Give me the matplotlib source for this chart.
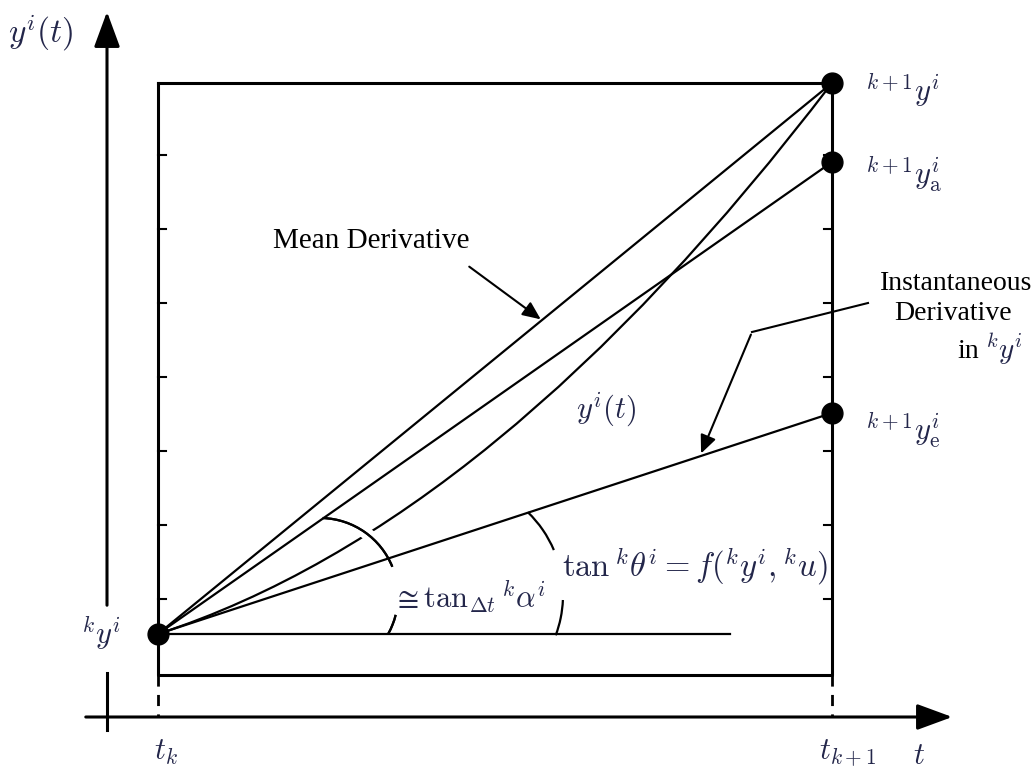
import matplotlib.pyplot as plt
import matplotlib.patheffects as pe
from matplotlib.path import Path
from matplotlib.patches import PathPatch, Arc

plt.rcParams['mathtext.fontset'] = 'cm'

# diagram geometry (pixel units, y down)
t_k = 158
t_k1 = 832
y_k = 634          # k y^i
y_next = 83        # k+1 y^i
y_a = 162          # k+1 y^i_a
y_e = 413          # k+1 y^i_e
box_bottom = 675
x_axis_y = 717
y_axis_x = 107
box_ticks = [155, 229, 303, 377, 451, 525, 599]
curve_ctrl = (496, 524)   # control point of the y^i(t) curve
horiz_end = 730

# angle marks: centre, radius, visible pieces (degrees, y down)
alpha_arc = ((320, 596), 78, [(-88, -22), (14, 29)])
theta_arc = ((448, 595), 115, [(-46, -23), (2.5, 20.5)])

math_color = '#23264a'
serif = 'Liberation Serif'

fig = plt.figure(figsize=(10.34, 7.71), dpi=100)
ax = fig.add_axes([0, 0, 1, 1])
ax.set_xlim(0, 1034)
ax.set_ylim(771, 0)
ax.axis('off')

lw = 1.6
head = '-|>,head_length=0.68,head_width=0.25'
# axes with arrows
ax.annotate('', xy=(y_axis_x, 9), xytext=(y_axis_x, 608),
            arrowprops=dict(arrowstyle=head, lw=2.2, color='k', mutation_scale=32))
ax.plot([y_axis_x, y_axis_x], [673, 730], color='k', lw=2.2)
ax.annotate('', xy=(955, x_axis_y), xytext=(83, x_axis_y),
            arrowprops=dict(arrowstyle=head, lw=2.2, color='k', mutation_scale=32))

# box
ax.plot([t_k, t_k1, t_k1, t_k, t_k], [y_next, y_next, box_bottom, box_bottom, y_next],
        color='k', lw=2.2)
for yt in box_ticks:
    ax.plot([t_k, t_k + 8], [yt, yt], color='k', lw=1.5)
    ax.plot([t_k1 - 8, t_k1], [yt, yt], color='k', lw=1.5)
ax.plot([t_k, t_k], [box_bottom, x_axis_y], color='k', lw=2, ls=(0, (4, 3)))
ax.plot([t_k1, t_k1], [box_bottom, x_axis_y], color='k', lw=2, ls=(0, (4, 3)))

# mean derivative, a-line, e-line
ax.plot([t_k, t_k1], [y_k, y_next], color='k', lw=lw)
ax.plot([t_k, t_k1], [y_k, y_a], color='k', lw=lw)
ax.plot([t_k, t_k1], [y_k, y_e], color='k', lw=lw)

# y^i(t) curve
path = Path([(t_k, y_k), curve_ctrl, (t_k1, y_next)], [Path.MOVETO, Path.CURVE3, Path.CURVE3])
ax.add_patch(PathPatch(path, fill=False, color='k', lw=lw))

# angle arcs (alpha arc cuts the lines it crosses)
(cx, cy), r, pieces = alpha_arc
for a1, a2 in pieces:
    ax.add_patch(Arc((cx, cy), 2 * r, 2 * r, theta1=a1, theta2=a2, color='k', lw=lw,
                     path_effects=[pe.withStroke(linewidth=9, foreground='white'), pe.Normal()]))
(cx, cy), r, pieces = theta_arc
for a1, a2 in pieces:
    ax.add_patch(Arc((cx, cy), 2 * r, 2 * r, theta1=a1, theta2=a2, color='k', lw=lw))
# horizontal reference line
ax.plot([t_k, horiz_end], [y_k, y_k], color='k', lw=lw)

# points
ax.plot([t_k, t_k1, t_k1, t_k1], [y_k, y_next, y_a, y_e], 'o', color='k', ms=15)

# annotation arrows
ax.annotate('', xy=(543, 321), xytext=(467, 265),
            arrowprops=dict(arrowstyle='-|>,head_length=0.5,head_width=0.22', lw=1.5,
                            color='k', mutation_scale=22))
ax.plot([868, 752], [303, 332], color='k', lw=1.5)
ax.annotate('', xy=(700, 456), xytext=(752, 332),
            arrowprops=dict(arrowstyle='-|>,head_length=0.5,head_width=0.22', lw=1.5,
                            color='k', mutation_scale=22))

# labels
ax.text(8, 33, r'$y^i(t)$', fontsize=24, color=math_color, va='center')
ax.text(101, 633, r'${}^ky^i$', fontsize=22, color=math_color, va='center', ha='center')
ax.text(166, 752, r'$t_k$', fontsize=22, color=math_color, va='center', ha='center')
ax.text(848, 753, r'$t_{k+1}$', fontsize=22, color=math_color, va='center', ha='center')
ax.text(919, 755, r'$t$', fontsize=22, color=math_color, va='center', ha='center')
ax.text(865, 90, r'${}^{k+1}y^i$', fontsize=22, color=math_color, va='center')
ax.text(865, 174, r'${}^{k+1}y^i_{\mathrm{a}}$', fontsize=22, color=math_color, va='center')
ax.text(865, 430, r'${}^{k+1}y^i_{\mathrm{e}}$', fontsize=22, color=math_color, va='center')
ax.text(606, 410, r'$y^i(t)$', fontsize=22, color=math_color, va='center', ha='center')
ax.text(392, 597, r'$\cong\tan_{\Delta t}{}^k\alpha^i$', fontsize=22, color=math_color,
        va='center')
ax.text(562, 566, r'$\tan{}^k\theta^i = f({}^ky^i, {}^ku)$', fontsize=23.5, color=math_color,
        va='center')

ax.text(273, 241, 'Mean Derivative', fontsize=21, family=serif, va='center')
ax.text(1032, 283, 'Instantaneous', fontsize=20, family=serif, va='center', ha='right')
ax.text(953, 314, 'Derivative', fontsize=20, family=serif, va='center', ha='center')
ax.text(957, 352, 'in', fontsize=20, family=serif, va='center')
ax.text(985, 349, r'${}^ky^i$', fontsize=21, color=math_color, va='center')

fig.savefig('out.png', dpi=100)
